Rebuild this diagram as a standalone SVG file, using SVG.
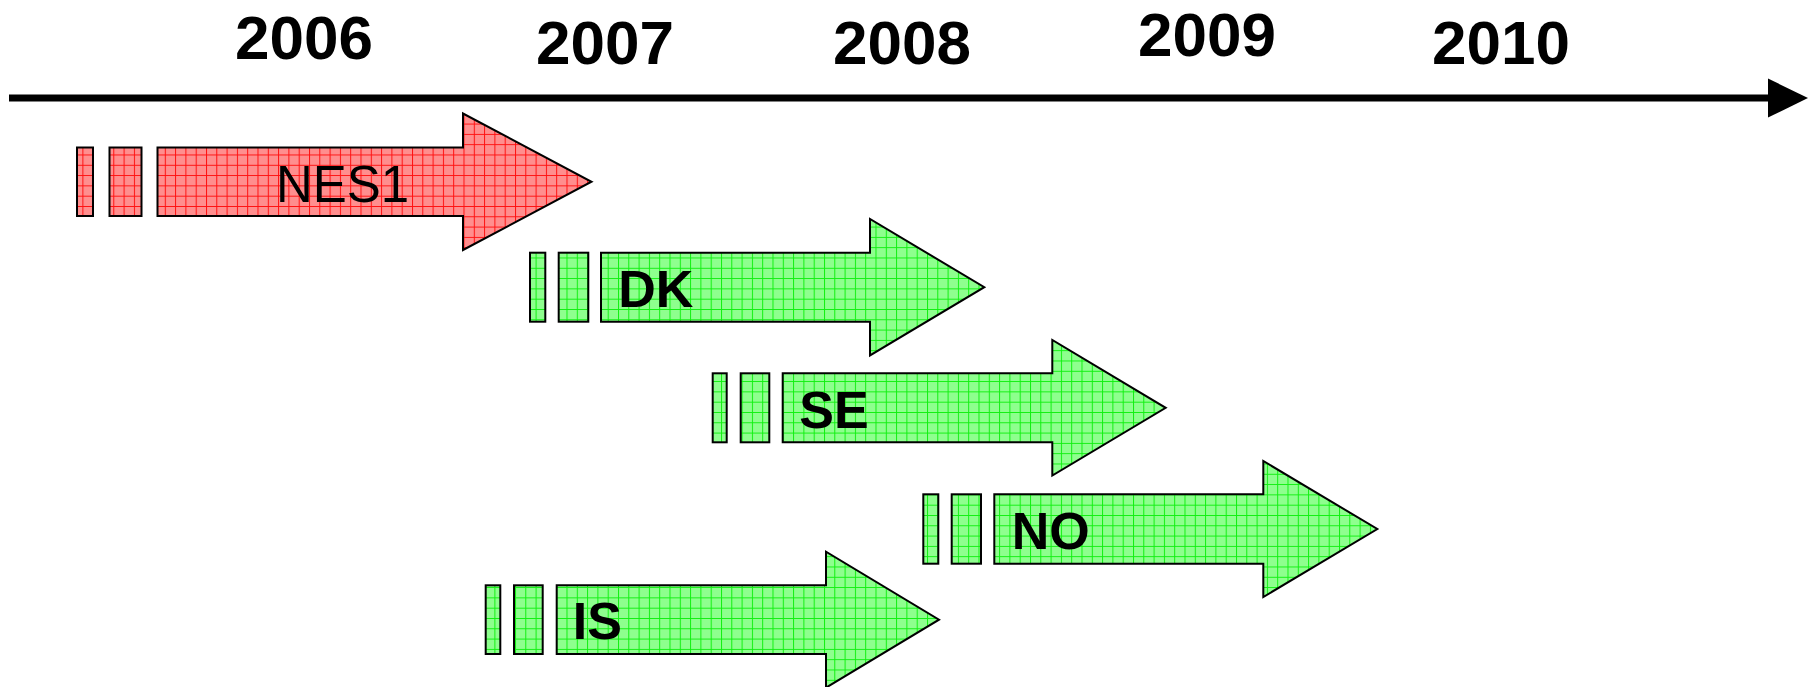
<svg xmlns="http://www.w3.org/2000/svg" width="1815" height="687" viewBox="0 0 1815 687">
<defs>
<pattern id="gridRed" patternUnits="userSpaceOnUse" width="10.3" height="10.3">
<rect width="10.3" height="10.3" fill="#ff8e8e"/>
<path d="M0 0.5H10.3M0.5 0V10.3" stroke="#ff1010" stroke-width="1" fill="none"/>
</pattern>
<pattern id="gridGreen" patternUnits="userSpaceOnUse" width="10.3" height="10.3">
<rect width="10.3" height="10.3" fill="#8eff8e"/>
<path d="M0 0.5H10.3M0.5 0V10.3" stroke="#10f010" stroke-width="1" fill="none"/>
</pattern>
</defs>
<style>
.red{fill:url(#gridRed);stroke:#000;stroke-width:2;stroke-linejoin:miter}
.green{fill:url(#gridGreen);stroke:#000;stroke-width:2;stroke-linejoin:miter}
.year{font-family:"Liberation Sans",Arial,sans-serif;font-weight:bold;font-size:62px;fill:#000;text-anchor:middle}
.lbl{font-family:"Liberation Sans",Arial,sans-serif;font-weight:bold;font-size:52px;fill:#000}
.lblr{font-family:"Liberation Sans",Arial,sans-serif;font-size:51px;fill:#000}
</style>
<g id="axis">
<line x1="9" y1="98" x2="1772" y2="98" stroke="#000" stroke-width="7"/>
<polygon points="1768,78.5 1808,98 1768,117.5" fill="#000"/>
</g>
<g id="years">
<text class="year" x="304" y="59">2006</text>
<text class="year" x="605" y="64">2007</text>
<text class="year" x="902" y="64">2008</text>
<text class="year" x="1207" y="56">2009</text>
<text class="year" x="1501" y="64">2010</text>
</g>
<g id="nes1">
<rect class="red" x="77" y="147.5" width="16" height="68.5"/>
<rect class="red" x="109.5" y="147.5" width="32" height="68.5"/>
<polygon class="red" points="157.5,147.5 463,147.5 463,113.5 591.5,181.75 463,250 463,216 157.5,216"/>
<text class="lblr" x="276" y="201.7">NES1</text>
</g>
<g id="dk">
<rect class="green" x="530" y="252.7" width="15.3" height="69"/>
<rect class="green" x="558.7" y="252.7" width="29.6" height="69"/>
<polygon class="green" points="601,252.7 870,252.7 870,219 984.3,287.2 870,355.4 870,321.7 601,321.7"/>
<text class="lbl" x="618.3" y="307.3">DK</text>
</g>
<g id="se">
<rect class="green" x="712.7" y="373.3" width="14" height="69"/>
<rect class="green" x="740.7" y="373.3" width="28.6" height="69"/>
<polygon class="green" points="782.7,373.3 1052.3,373.3 1052.3,340 1165.7,407.8 1052.3,475.6 1052.3,442.3 782.7,442.3"/>
<text class="lbl" x="799.3" y="428.3">SE</text>
</g>
<g id="no">
<rect class="green" x="923.3" y="494.3" width="15" height="69.4"/>
<rect class="green" x="951.7" y="494.3" width="29.3" height="69.4"/>
<polygon class="green" points="994.3,494.3 1263.3,494.3 1263.3,461 1377.3,529 1263.3,597 1263.3,563.7 994.3,563.7"/>
<text class="lbl" x="1011.7" y="549.3">NO</text>
</g>
<g id="is">
<rect class="green" x="485.7" y="585.3" width="14.6" height="68.7"/>
<rect class="green" x="514" y="585.3" width="28.7" height="68.7"/>
<polygon class="green" points="556.7,585.3 826,585.3 826,551.7 939,619.7 826,687.7 826,654 556.7,654"/>
<text class="lbl" x="572.7" y="639.3">IS</text>
</g>
</svg>
